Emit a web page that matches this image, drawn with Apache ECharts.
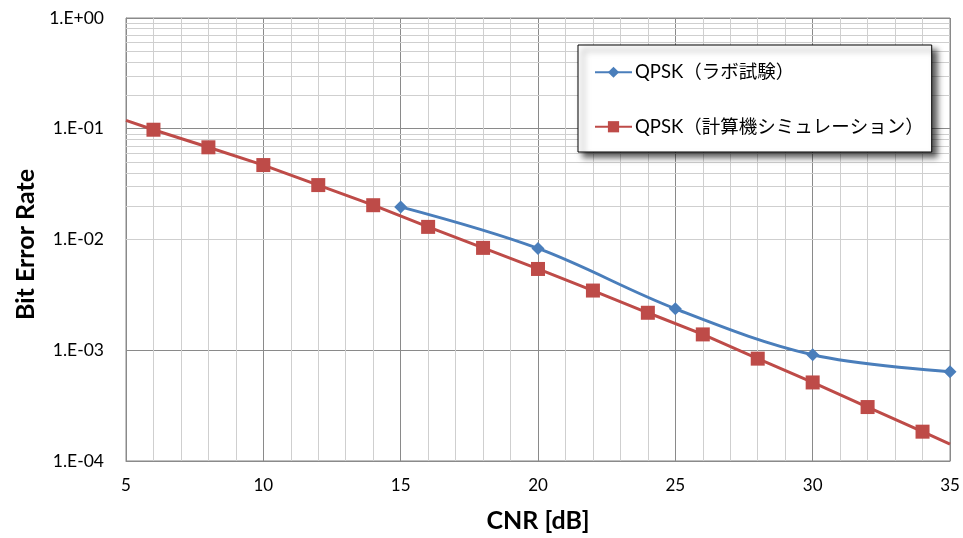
<!DOCTYPE html>
<html>
<head>
<meta charset="utf-8">
<script src="https://cdn.jsdelivr.net/npm/echarts@6/dist/echarts.min.js"></script>
<style>
html,body{margin:0;padding:0;background:#fff;}
#chart{width:963px;height:538px;}
</style>
</head>
<body>
<div id="chart"></div>
<script>
// ---- data ----
const seriesNames = ['QPSK（ラボ試験）', 'QPSK（計算機シミュレーション）'];
const labCNR = [15, 20, 25, 30, 35];
const labBER = [0.0197, 0.0083, 0.00237, 0.00091, 0.00064];
const simCNR = [5, 6, 8, 10, 12, 14, 16, 18, 20, 22, 24, 26, 28, 30, 32, 34, 35];
const simBER = [0.119, 0.098, 0.068, 0.047, 0.031, 0.0204, 0.0130, 0.0084, 0.00542, 0.00346, 0.00218, 0.00139, 0.00084, 0.000512, 0.000307, 0.000184, 0.000142];
const simMarked = [false, true, true, true, true, true, true, true, true, true, true, true, true, true, true, true, false];
const yTickValues = [1e-4, 1e-3, 1e-2, 1e-1, 1];
const yTickLabels = ['1.E-04', '1.E-03', '1.E-02', '1.E-01', '1.E+00'];
const yMinorValues = [];
[1e-4, 1e-3, 1e-2, 1e-1].forEach(function (d) { for (let k = 2; k <= 9; k++) yMinorValues.push(+(d * k).toPrecision(3)); });
const xTitle = 'CNR [dB]';
const yTitle = 'Bit Error Rate';

const FONT = 'Lato, "Noto Sans CJK JP", sans-serif';
const chart = echarts.init(document.getElementById('chart'));

function yLabel(v) {
  for (let i = 0; i < yTickValues.length; i++) {
    if (Math.abs(Math.log10(v) - Math.log10(yTickValues[i])) < 1e-6) return yTickLabels[i];
  }
  return '';
}

const option = {
  animation: false,
  backgroundColor: '#fff',
  textStyle: { fontFamily: FONT },
  grid: { left: 126, right: 13, top: 18, bottom: 76, show: true, borderColor: '#8a8a8a', borderWidth: 1 },
  legend: {
    orient: 'vertical',
    left: 578, top: 45,
    padding: [18, 8, 16, 16],
    itemGap: 36,
    itemWidth: 37, itemHeight: 14,
    backgroundColor: '#fff',
    borderColor: '#000', borderWidth: 1,
    shadowColor: 'rgba(0,0,0,0.65)', shadowBlur: 6, shadowOffsetX: 5, shadowOffsetY: 5,
    textStyle: { fontFamily: FONT, fontSize: 18.5, color: '#000', padding: [0, 0, 0, -2] },
    data: seriesNames
  },
  xAxis: {
    type: 'value', min: 5, max: 35, interval: 5,
    axisLine: { show: true, lineStyle: { color: '#8a8a8a' } },
    axisTick: { show: false },
    axisLabel: { fontSize: 17, color: '#000', margin: 16, fontFamily: FONT },
    splitLine: { show: true, lineStyle: { color: '#8a8a8a', width: 1 } },
    minorTick: { show: false, splitNumber: 5 },
    minorSplitLine: { show: true, lineStyle: { color: '#cfcfcf', width: 1 } },
    name: xTitle, nameLocation: 'middle', nameGap: 47,
    nameTextStyle: { fontSize: 25, fontWeight: 'bold', color: '#000', fontFamily: FONT }
  },
  yAxis: {
    type: 'log', logBase: 10, min: 1e-4, max: 1, interval: 1,
    axisLine: { show: true, lineStyle: { color: '#8a8a8a' } },
    axisTick: { show: false },
    axisLabel: { fontSize: 17.5, color: '#000', margin: 22, fontFamily: FONT, formatter: yLabel },
    splitLine: { show: true, lineStyle: { color: '#8a8a8a', width: 1 } },
    name: yTitle, nameLocation: 'middle', nameGap: 88, nameRotate: 90,
    nameTextStyle: { fontSize: 25, fontWeight: 'bold', color: '#000', fontFamily: FONT, padding: [0, 10, 0, 0] }
  },
  series: [
    {
      name: seriesNames[0], type: 'line', z: 4,
      data: labCNR.map(function (x, i) { return [x, labBER[i]]; }),
      smooth: 0.35,
      symbol: 'diamond', symbolSize: 13,
      lineStyle: { color: '#4a7ebb', width: 3 },
      itemStyle: { color: '#4a7ebb' }
    },
    {
      name: seriesNames[1], type: 'line', z: 3,
      data: simCNR.map(function (x, i) {
        return simMarked[i] ? [x, simBER[i]] : { value: [x, simBER[i]], symbol: 'none' };
      }),
      symbol: 'rect', symbolSize: 14,
      lineStyle: { color: '#be4b48', width: 3 },
      itemStyle: { color: '#be4b48' }
    },
    {
      name: 'minor-grid', type: 'line', data: [], silent: true, z: 1,
      markLine: {
        z: 1, silent: true, symbol: 'none', label: { show: false },
        lineStyle: { color: '#cfcfcf', width: 1, type: 'solid' },
        emphasis: { disabled: true },
        data: yMinorValues.map(function (v) { return { yAxis: v }; })
      }
    }
  ]
};
chart.setOption(option);
</script>
</body>
</html>
